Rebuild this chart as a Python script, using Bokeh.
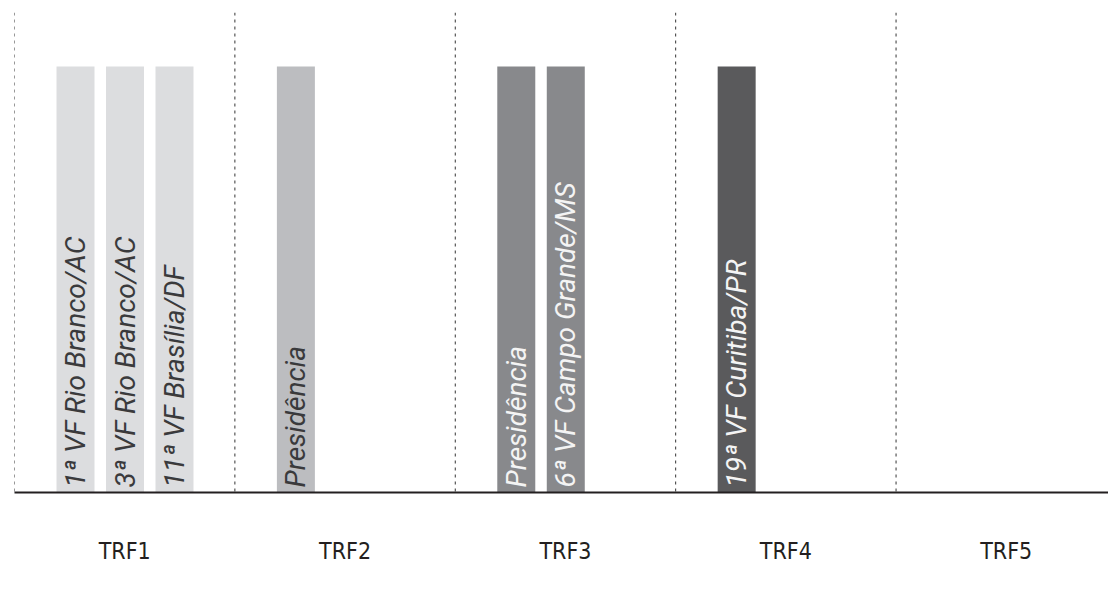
import math
from bokeh.plotting import figure
from bokeh.models import ColumnDataSource, Span, FixedTicker, Range1d
from bokeh.core.properties import value
from bokeh.embed import file_html
from bokeh.resources import INLINE

# ---- data ----
groups = ["TRF1", "TRF2", "TRF3", "TRF4", "TRF5"]
group_colors = ["#dcdddf", "#bcbdc0", "#88898c", "#5a5a5c", "#3a3a3c"]
group_text_colors = ["#3a3a3c", "#3a3a3c", "#f4f4f4", "#f4f4f4", "#f4f4f4"]
bar_labels = ["1ª VF Rio Branco/AC", "3ª VF Rio Branco/AC", "11ª VF Brasília/DF",
              "Presidência", "Presidência", "6ª VF Campo Grande/MS",
              "19ª VF Curitiba/PR"]
bar_groups = ["TRF1", "TRF1", "TRF1", "TRF2", "TRF3", "TRF3", "TRF4"]
bar_values = [1, 1, 1, 1, 1, 1, 1]

# ---- layout helpers ----
slot_first = 0.2768
slot_step = 0.2246
bar_w = 0.1724

xs, cols, tcols = [], [], []
counter = {}
for g in bar_groups:
    gi = groups.index(g)
    k = counter.get(g, 0)
    counter[g] = k + 1
    xs.append(gi + slot_first + k * slot_step)
    cols.append(group_colors[gi])
    tcols.append(group_text_colors[gi])

src = ColumnDataSource(dict(x=xs, top=bar_values, label=bar_labels,
                            color=cols, tcolor=tcols,
                            ty=[0.012] * len(xs)))

p = figure(width=1108, height=586, output_backend="svg", toolbar_location=None,
           x_range=Range1d(0, 4.964), y_range=Range1d(0, 1.127))
p.min_border_left = 14
p.min_border_right = 0
p.min_border_top = 12
p.min_border_bottom = 94
p.outline_line_color = None
p.xgrid.visible = False
p.ygrid.visible = False
p.yaxis.visible = False
p.background_fill_color = "white"
p.border_fill_color = "white"

for gi in range(len(groups)):
    p.add_layout(Span(location=gi, dimension="height", line_color="#333333",
                      line_width=1, line_dash="3 4"))

p.vbar(x="x", top="top", bottom=0, width=bar_w, color="color", source=src,
       line_color=None)

p.text(x="x", y="ty", text="label", angle=math.pi / 2, source=src,
       text_color="tcolor", text_font=value("Roboto"), text_font_style="italic",
       text_font_size="28px", text_align="left", text_baseline="middle")

ax = p.xaxis[0]
ax.ticker = FixedTicker(ticks=[i + 0.5 for i in range(len(groups))])
ax.major_label_overrides = {i + 0.5: g for i, g in enumerate(groups)}
ax.axis_line_width = 2
ax.axis_line_color = "#231f20"
ax.major_tick_line_color = None
ax.minor_tick_line_color = None
ax.major_label_text_font = "Liberation Sans Narrow, DejaVu Sans Condensed, Roboto"
ax.major_label_text_font_size = "23px"
ax.major_label_text_color = "#231f20"
ax.major_label_standoff = 39

open("out.html", "w").write(file_html(p, INLINE))
